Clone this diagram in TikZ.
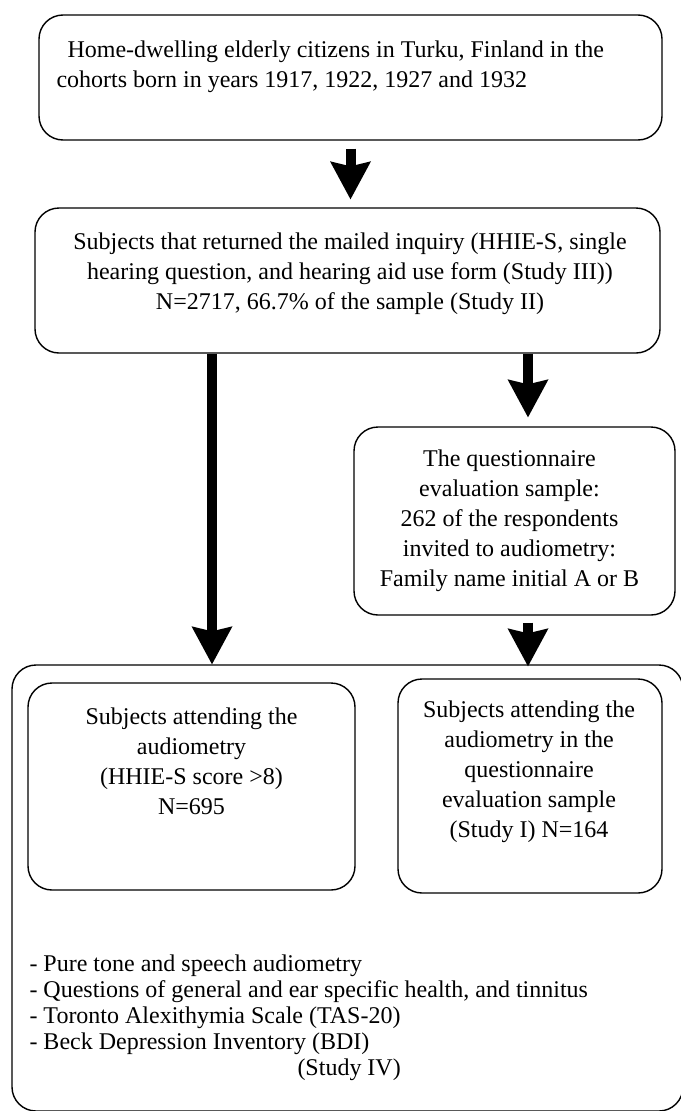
\documentclass[tikz,border=0pt]{standalone}
\usepackage{fontspec}
\setmainfont{Liberation Serif}
\usetikzlibrary{arrows.meta,positioning}

\begin{document}
\begin{tikzpicture}[x=1pt,y=1pt,
frame/.style={draw,line width=1.4pt,rounded corners=24pt,inner sep=0pt},
txt/.style={align=center,inner sep=0pt,font=\fontsize{24}{30}\selectfont},
fat/.style={-{Stealth[length=38pt,width=41pt,inset=5pt,line width=0pt]},line width=10pt}]
\useasboundingbox (0,0) rectangle (680,-1111);
% boxes
\node[frame,minimum width=623pt,minimum height=125pt] (cohort) at (350.5,-77.5) {};
\node[frame,minimum width=625pt,minimum height=145pt] (mailed) at (347.5,-280.5) {};
\node[frame,minimum width=321pt,minimum height=188pt] (quest) at (514.5,-521) {};
\node[frame,minimum width=671pt,minimum height=446pt] (visit) at (347.5,-888) {};
\node[frame,minimum width=327pt,minimum height=207pt] (hhie) at (191.5,-786.5) {};
\node[frame,minimum width=264pt,minimum height=214pt] (evalq) at (530,-786) {};
% texts
\node[txt,anchor=west,align=left] (cohorttxt) at ([xshift=18pt,yshift=11pt]cohort.west)
  {\hspace*{11pt}Home-dwelling elderly citizens in Turku, Finland in the\\
   cohorts born in years 1917, 1922, 1927 and 1932};
\node[txt] (mailedtxt) at ([xshift=2.5pt,yshift=7pt]mailed.center)
  {Subjects that returned the mailed inquiry (HHIE-S, single\\
   hearing question, and hearing aid use form (Study III))\\
   N=2717, 66.7\% of the sample (Study II)};
\node[txt] (questtxt) at ([xshift=-5pt]quest.center)
  {The questionnaire\\evaluation sample:\\262 of the respondents\\
   invited to audiometry:\\Family name initial A or B};
\node[txt] (hhietxt) at ([yshift=25.5pt]hhie.center)
  {Subjects attending the\\audiometry\\(HHIE-S score >8)\\N=695};
\node[txt] (evaltxt) at ([xshift=-1pt,yshift=14pt]evalq.center)
  {Subjects attending the\\audiometry in the\\questionnaire\\
   evaluation sample\\(Study I) N=164};
\node[txt,anchor=north west,align=left,font=\fontsize{24}{26}\selectfont] (tests)
  at ([xshift=18pt,yshift=-290pt]visit.north west)
  {- Pure tone and speech audiometry\\
   - Questions of general and ear specific health, and tinnitus\\
   - Toronto Alexithymia Scale (TAS-20)\\
   - Beck Depression Inventory (BDI)\\
   \hspace*{268pt}(Study IV)};
% arrows
\coordinate (qtop) at ([xshift=13.5pt]quest.north);
\draw[fat,shorten <=8pt,shorten >=8pt] (cohort.south) -- (cohort.south |- mailed.north);
\draw[fat] ([xshift=-135.5pt]mailed.south) -- ([xshift=-135.5pt]mailed.south |- visit.north);
\draw[fat,shorten >=9pt] (mailed.south -| qtop) -- (qtop);
\draw[fat,shorten <=7pt,shorten >=-2pt] ([xshift=13.5pt]quest.south) -- (qtop |- visit.north);
\end{tikzpicture}
\end{document}
